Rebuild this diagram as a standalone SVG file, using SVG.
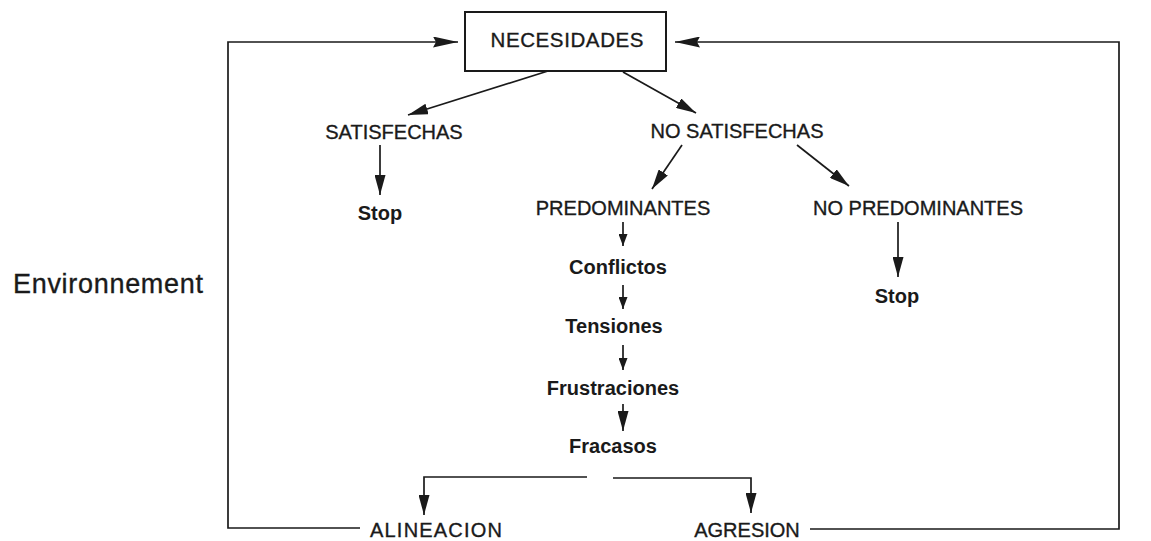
<svg xmlns="http://www.w3.org/2000/svg" width="1151" height="541" viewBox="0 0 1151 541">
<style>
.t{font-family:"Liberation Sans",Arial,sans-serif;font-size:20px;fill:#1a1a1a;stroke:#1a1a1a;stroke-width:0.35;text-anchor:middle}
.b{font-weight:bold;stroke-width:0}
.ln{fill:none;stroke:#1a1a1a;stroke-width:1.7}
</style>
<defs>
<marker id="big" viewBox="0 0 20 11" refX="20" refY="5.5" markerWidth="20" markerHeight="11" markerUnits="userSpaceOnUse" orient="auto"><path d="M0,0 L20,5.5 L0,11 z" fill="#1a1a1a"/></marker>
<marker id="wide" viewBox="0 0 25 11" refX="25" refY="5.5" markerWidth="25" markerHeight="11" markerUnits="userSpaceOnUse" orient="auto"><path d="M0,0 L25,5.5 L0,11 L3,5.5 z" fill="#1a1a1a"/></marker>
<marker id="small" viewBox="0 0 12 9" refX="12" refY="4.5" markerWidth="12" markerHeight="9" markerUnits="userSpaceOnUse" orient="auto"><path d="M0,0 L12,4.5 L0,9 z" fill="#1a1a1a"/></marker>
</defs>
<rect width="1151" height="541" fill="#fff"/>
<g id="connectors">
<path class="ln" d="M360,528 H228 V42 H458" marker-end="url(#wide)"/>
<path class="ln" d="M810,529 H1119 V42 H675" marker-end="url(#wide)"/>
<path class="ln" d="M548,71 L408,115" marker-end="url(#big)"/>
<path class="ln" d="M623,72 L696,113" marker-end="url(#big)"/>
<path class="ln" d="M380,145 V195" marker-end="url(#big)"/>
<path class="ln" d="M682,145 L652,189" marker-end="url(#big)"/>
<path class="ln" d="M797,145 L849,186" marker-end="url(#big)"/>
<path class="ln" d="M898,222 V277" marker-end="url(#big)"/>
<path class="ln" d="M623,222 V246" marker-end="url(#small)"/>
<path class="ln" d="M623,285 V309" marker-end="url(#small)"/>
<path class="ln" d="M623,345 V370" marker-end="url(#small)"/>
<path class="ln" d="M623,404 V431" marker-end="url(#big)"/>
<path class="ln" d="M587,477 H424 V515" marker-end="url(#big)"/>
<path class="ln" d="M613,478 H751 V513" marker-end="url(#big)"/>
</g>
<g id="necesidades">
<rect x="465" y="12" width="201" height="59" fill="#fff" stroke="#1a1a1a" stroke-width="2"/>
<text class="t" x="567" y="47" style="font-size:20.5px" textLength="153">NECESIDADES</text>
</g>
<g id="satisfechas"><text class="t" x="394" y="139">SATISFECHAS</text></g>
<g id="no-satisfechas"><text class="t" x="737" y="138">NO SATISFECHAS</text></g>
<g id="predominantes"><text class="t" x="623" y="215">PREDOMINANTES</text></g>
<g id="no-predominantes"><text class="t" x="918" y="215">NO PREDOMINANTES</text></g>
<g id="stop1"><text class="t b" x="380" y="220">Stop</text></g>
<g id="stop2"><text class="t b" x="897" y="303">Stop</text></g>
<g id="conflictos"><text class="t b" x="618" y="274">Conflictos</text></g>
<g id="tensiones"><text class="t b" x="614" y="333">Tensiones</text></g>
<g id="frustraciones"><text class="t b" x="613" y="395">Frustraciones</text></g>
<g id="fracasos"><text class="t b" x="613" y="453">Fracasos</text></g>
<g id="alineacion"><text class="t" x="436" y="537" textLength="132">ALINEACION</text></g>
<g id="agresion"><text class="t" x="747" y="537">AGRESION</text></g>
<g id="environnement"><text class="t" x="13" y="293" style="text-anchor:start;font-size:27px" textLength="190">Environnement</text></g>
</svg>
